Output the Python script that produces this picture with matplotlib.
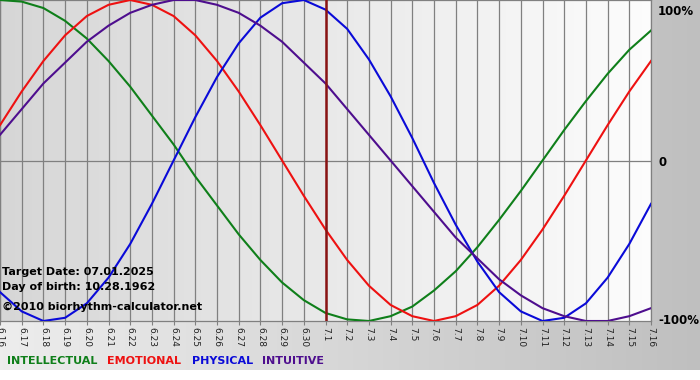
import numpy as np
import matplotlib
matplotlib.use('agg')
from matplotlib import pyplot as plt
from matplotlib import transforms

# days shown on the x axis, 6.16 .. 7.16
dates = ['6.16', '6.17', '6.18', '6.19', '6.20', '6.21', '6.22', '6.23', '6.24', '6.25',
         '6.26', '6.27', '6.28', '6.29', '6.30', '7.1', '7.2', '7.3', '7.4', '7.5',
         '7.6', '7.7', '7.8', '7.9', '7.10', '7.11', '7.12', '7.13', '7.14', '7.15', '7.16']
target_idx = 15  # 7.1

# rhythm values in percent, one per day
intellectual = [100, 99, 95, 87, 76, 62, 46, 28, 10, -10, -28, -46, -62, -76, -87, -95,
                -99, -100, -97, -91, -81, -69, -54, -37, -19, 0, 19, 37, 54, 69, 81]
emotional = [22, 43, 62, 78, 90, 97, 100, 97, 90, 78, 62, 43, 22, 0, -22, -43,
             -62, -78, -90, -97, -100, -97, -90, -78, -62, -43, -22, 0, 22, 43, 62]
physical = [-82, -94, -100, -98, -89, -73, -52, -27, 0, 27, 52, 73, 89, 98, 100, 94,
            82, 63, 40, 14, -14, -40, -63, -82, -94, -100, -98, -89, -73, -52, -27]
intuitive = [16, 32, 48, 61, 74, 84, 92, 97, 100, 100, 97, 92, 84, 74, 61, 48,
             32, 16, 0, -16, -32, -48, -61, -74, -84, -92, -97, -100, -100, -97, -92]

series = [('INTELLECTUAL', intellectual, '#0f7f1a'),
          ('EMOTIONAL', emotional, '#ee1111'),
          ('PHYSICAL', physical, '#0a0ad8'),
          ('INTUITIVE', intuitive, '#4e0e8e')]

W, H = 700, 380
fig = plt.figure(figsize=(W / 100, H / 100), dpi=100)

# figure background: horizontal gradient light -> gray, white strip at bottom
bg = fig.add_axes([0, 0, 1, 1], zorder=-10)
bg.axis('off')
grad = np.linspace(0, 1, 256)
bg_cols = np.array([0.93, 0.93, 0.93])[None, :] * (1 - grad[:, None]) + \
    np.array([0.75, 0.75, 0.75])[None, :] * grad[:, None]
bg.imshow(bg_cols[None, :, :], aspect='auto', extent=(0, 1, 10 / H, 1))
bg.set_xlim(0, 1)
bg.set_ylim(0, 1)

# main plot area
x0, x1 = 0, 651
y0, y1 = 0, 321
ax = fig.add_axes([x0 / W, 1 - y1 / H, (x1 - x0) / W, (y1 - y0) / H])
days = np.arange(len(dates))
ax.set_xlim(0, len(dates) - 1)
ax.set_ylim(-100, 100)

pa_cols = np.array([0.84, 0.84, 0.84])[None, :] * (1 - grad[:, None]) + \
    np.array([0.99, 0.99, 0.99])[None, :] * grad[:, None]
ax.imshow(pa_cols[None, :, :], aspect='auto', extent=(0, len(dates) - 1, -100, 100), zorder=0)

for d in days:
    ax.axvline(d, color='#808080', lw=0.9, zorder=1)
ax.axhline(0, color='#808080', lw=0.9, zorder=1)
ax.axvline(target_idx, color='#8a1414', lw=1.8, zorder=5)

for name, vals, col in series:
    ax.plot(days, vals, color=col, lw=1.5, zorder=3, solid_joinstyle='round')

for s in ax.spines.values():
    s.set_color('#808080')
    s.set_linewidth(0.9)

ax.set_xticks(days)
ax.set_xticklabels(dates, rotation=270, fontsize=6.5, color='#222222')
ax.tick_params(axis='x', length=3, color='#808080', pad=1)
ax.set_yticks([])

# right side percentage labels
trans = transforms.blended_transform_factory(ax.transAxes, ax.transData)
ax.text(1.011, 97, '100%', transform=trans, fontsize=8.5, fontweight='bold', va='top', ha='left')
ax.text(1.011, -1, '0', transform=trans, fontsize=8.5, fontweight='bold', va='center', ha='left')
ax.text(1.011, -100, '-100%', transform=trans, fontsize=8.5, fontweight='bold', va='center', ha='left')

# info text
info = ['Target Date: 07.01.2025', 'Day of birth: 10.28.1962', '\u00a92010 biorhythm-calculator.net']
info_y = [272, 287, 307]
for t, y in zip(info, info_y):
    fig.text(2 / W, 1 - y / H, t, fontsize=8, fontweight='bold', va='center', ha='left', zorder=20)

# legend row
legend_x = [7, 107, 192, 262]
for (name, vals, col), lx in zip(series, legend_x):
    fig.text(lx / W, 1 - 361 / H, name, color=col, fontsize=8, fontweight='bold', va='center', ha='left')

fig.savefig('out.png', dpi=100)
plt.close(fig)
